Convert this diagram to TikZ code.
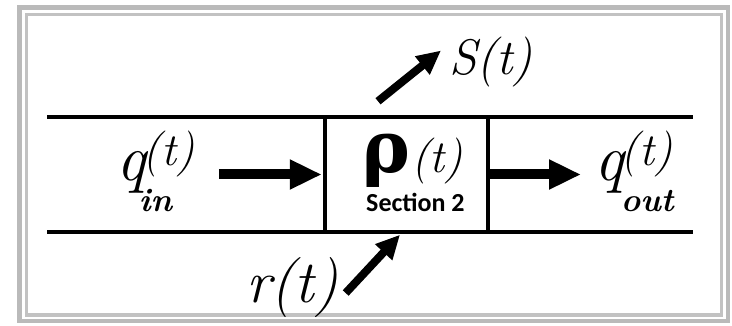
\documentclass[tikz,border=0pt]{standalone}
\usepackage{fontspec}
\newfontfamily\grk{DejaVu Serif}
\newfontfamily\secfont{Carlito}
\usetikzlibrary{arrows.meta}
\tikzset{
  lbl/.style={inner sep=0pt, anchor=base west},
  pipe/.style={line width=4pt},
  boxsec/.style={draw, line width=3.5pt, minimum width=163pt, minimum height=115pt, inner sep=0pt},
  fatarrow/.style={line width=10pt, -{Triangle[length=32pt,width=28pt]}},
  diagarrow/.style={line width=8pt, -{Triangle[length=24pt,width=22pt]}},
  frameout/.style={draw=black!27, line width=4.5pt},
  framein/.style={draw=black!24, line width=3pt}
}
\begin{document}
\begin{tikzpicture}[x=1pt,y=-1pt]
\useasboundingbox (0,0) rectangle (732,326);
% frame
\draw[frameout] (19.5,7.5) rectangle (728,321);
\draw[framein] (26,14.5) rectangle (721.5,315);
% pipe lines
\coordinate (tl) at (47,117);
\coordinate (tr) at (693,117);
\coordinate (bl) at (47,232);
\coordinate (br) at (693,232);
\draw[pipe] (tl) -- (tr);
\draw[pipe] (bl) -- (br);
% section box
\node[boxsec] (sec) at (406.5,174.5) {};
% labels
\node[lbl] (qin) at (116,181) {{\fontsize{66}{66}\selectfont\itshape q}\kern-3pt\rlap{\raisebox{-31pt}{\fontsize{33}{33}\selectfont\bfseries\itshape\kern-4pt in}}\raisebox{15pt}{\fontsize{46}{46}\selectfont\itshape (t)}};
\node[lbl] (qout) at (594,181) {{\fontsize{66}{66}\selectfont\itshape q}\kern-3pt\rlap{\raisebox{-31pt}{\fontsize{33}{33}\selectfont\bfseries\itshape\kern0pt out}}\raisebox{15pt}{\fontsize{46}{46}\selectfont\itshape (t)}};
\node[lbl] (rho) at (362,173) {{\fontsize{72}{72}\selectfont\grk\bfseries ρ}\kern1pt{\fontsize{46}{46}\selectfont\itshape (t)}};
\node[lbl] (sec2) at (366,212) {\fontsize{26}{26}\selectfont\secfont\bfseries Section 2};
\node[lbl] (S) at (449,75) {\fontsize{50}{50}\selectfont\itshape S(t)};
\node[lbl] (r) at (246,302) {\fontsize{60}{60}\selectfont\itshape r(t)};
% arrows
\draw[fatarrow] ([xshift=24pt]qin.east |- sec.west) -- ([xshift=-1.5pt]sec.west);
\draw[fatarrow] (sec.east) -- ([xshift=-13pt]qout.west |- sec.east);
\draw[diagarrow] ([xshift=-28.5pt,yshift=14pt]sec.north) -- ([xshift=-8pt,yshift=12pt]S.west);
\draw[diagarrow] ([xshift=7pt,yshift=-6pt]r.east) -- ([xshift=-6.5pt,yshift=-1pt]sec.south);
\end{tikzpicture}
\end{document}
